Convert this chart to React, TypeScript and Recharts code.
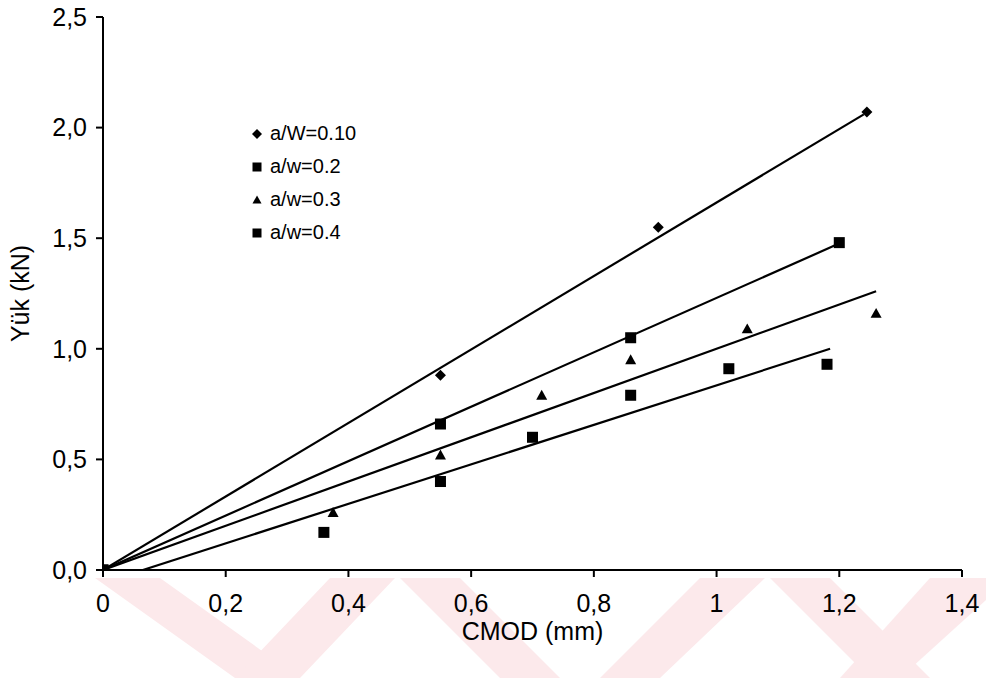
import { ComposedChart, Scatter, Line, XAxis, YAxis } from 'recharts';

const X_TICKS = [0, 0.2, 0.4, 0.6, 0.8, 1, 1.2, 1.4];
const Y_TICKS = [0, 0.5, 1, 1.5, 2, 2.5];

// measured points
const cmod10 = [0, 0.55, 0.905, 1.245];
const load10 = [0, 0.88, 1.55, 2.07];
const cmod20 = [0, 0.55, 0.86, 1.2];
const load20 = [0, 0.66, 1.05, 1.48];
const cmod30 = [0, 0.375, 0.55, 0.715, 0.86, 1.05, 1.26];
const load30 = [0, 0.26, 0.52, 0.79, 0.95, 1.09, 1.16];
const cmod40 = [0, 0.36, 0.55, 0.7, 0.86, 1.02, 1.18];
const load40 = [0, 0.17, 0.4, 0.6, 0.79, 0.91, 0.93];

// fitted lines (end points)
const fit10X = [0, 1.24];
const fit10Y = [0, 2.06];
const fit20X = [0, 1.195];
const fit20Y = [0, 1.47];
const fit30X = [0, 1.26];
const fit30Y = [0, 1.26];
const fit40X = [0.065, 1.185];
const fit40Y = [0, 1.0];

const LABELS = ['a/W=0.10', 'a/w=0.2', 'a/w=0.3', 'a/w=0.4'];
const SHAPES = ['diamond', 'square', 'triangle', 'square'];

const FONT = '"Liberation Sans", Arial, sans-serif';

// faint scan watermark at the bottom of the page
const WATERMARK = [
  '95,578 160,578 300,678 235,678',
  '330,578 395,578 300,678 235,678',
  '400,578 460,578 560,678 500,678',
  '700,578 765,578 660,678 600,678',
  '770,578 830,578 930,678 870,678',
  '930,578 986,578 986,600 900,678 840,678',
];

const zip = (xs: number[], ys: number[]) => xs.map((x, i) => ({ x, y: ys[i] }));

const fmtX = (v: number) => (Number.isInteger(v) ? String(v) : v.toFixed(1).replace('.', ','));
const fmtY = (v: number) => v.toFixed(1).replace('.', ',');

function Marker({ kind, cx, cy, s = 5.5 }: { kind: string; cx: number; cy: number; s?: number }) {
  if (kind === 'diamond') {
    return <polygon points={`${cx},${cy - s} ${cx + s},${cy} ${cx},${cy + s} ${cx - s},${cy}`} fill="#000" />;
  }
  if (kind === 'triangle') {
    return <polygon points={`${cx},${cy - s} ${cx + s},${cy + s * 0.8} ${cx - s},${cy + s * 0.8}`} fill="#000" />;
  }
  return <rect x={cx - s} y={cy - s} width={s * 2} height={s * 2} fill="#000" />;
}

const shapeOf = (kind: string) => (p: any) => <Marker kind={kind} cx={p.cx} cy={p.cy} />;

export default function App() {
  const tick = { fill: '#000', fontSize: 25, fontFamily: FONT };
  const axisStyle = { stroke: '#000', strokeWidth: 2 };
  return (
    <div style={{ position: 'absolute', left: 0, top: 0, width: 986, height: 678, background: '#fff' }}>
      <svg width={986} height={678} style={{ position: 'absolute', left: 0, top: 0 }}>
        {WATERMARK.map((p) => (
          <polygon key={p} points={p} fill="#fce9eb" />
        ))}
      </svg>
      <div style={{ position: 'absolute', left: 0, top: 0 }}>
        <ComposedChart width={986} height={678} margin={{ top: 17, right: 24, bottom: 22, left: 28 }}>
          <XAxis
            type="number"
            dataKey="x"
            domain={[0, 1.4]}
            ticks={X_TICKS}
            tickFormatter={fmtX}
            tick={tick}
            tickLine={axisStyle}
            axisLine={axisStyle}
            tickSize={7}
            tickMargin={17}
            height={86}
            allowDataOverflow
            label={{ value: 'CMOD (mm)', position: 'insideBottom', offset: 16, fill: '#000', fontSize: 25, fontFamily: FONT }}
          />
          <YAxis
            type="number"
            dataKey="y"
            domain={[0, 2.5]}
            ticks={Y_TICKS}
            tickFormatter={fmtY}
            tick={tick}
            tickLine={axisStyle}
            axisLine={axisStyle}
            tickSize={7}
            tickMargin={9}
            width={75}
            allowDataOverflow
            label={{ value: 'Yük  (kN)', angle: -90, position: 'insideLeft', offset: -8, fill: '#000', fontSize: 25, fontFamily: FONT, style: { textAnchor: 'middle' } }}
          />
          <Line data={zip(fit10X, fit10Y)} dataKey="y" stroke="#000" strokeWidth={2.2} dot={false} isAnimationActive={false} />
          <Line data={zip(fit20X, fit20Y)} dataKey="y" stroke="#000" strokeWidth={2.2} dot={false} isAnimationActive={false} />
          <Line data={zip(fit30X, fit30Y)} dataKey="y" stroke="#000" strokeWidth={2.2} dot={false} isAnimationActive={false} />
          <Line data={zip(fit40X, fit40Y)} dataKey="y" stroke="#000" strokeWidth={2.2} dot={false} isAnimationActive={false} />
          <Scatter data={zip(cmod10, load10)} dataKey="y" shape={shapeOf('diamond')} isAnimationActive={false} />
          <Scatter data={zip(cmod20, load20)} dataKey="y" shape={shapeOf('square')} isAnimationActive={false} />
          <Scatter data={zip(cmod30, load30)} dataKey="y" shape={shapeOf('triangle')} isAnimationActive={false} />
          <Scatter data={zip(cmod40, load40)} dataKey="y" shape={shapeOf('square')} isAnimationActive={false} />
        </ComposedChart>
      </div>
      <div style={{ position: 'absolute', left: 250, top: 117, fontFamily: FONT, fontSize: 20, color: '#000' }}>
        {LABELS.map((l, i) => (
          <div key={l} style={{ display: 'flex', alignItems: 'center', height: 33 }}>
            <svg width={14} height={14} style={{ marginRight: 6 }}>
              <Marker kind={SHAPES[i]} cx={7} cy={7} s={i === 0 ? 5 : 4.5} />
            </svg>
            <span>{l}</span>
          </div>
        ))}
      </div>
    </div>
  );
}
